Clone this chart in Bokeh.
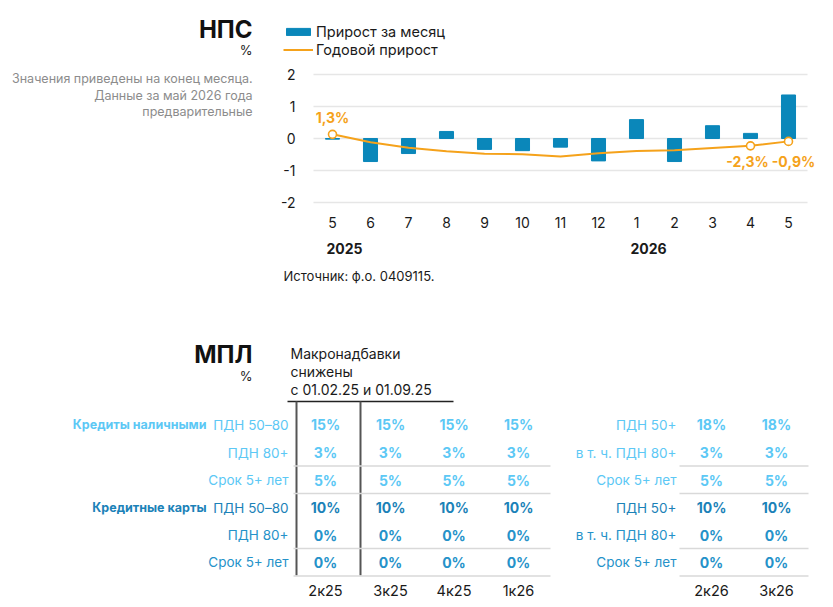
from bokeh.plotting import figure
from bokeh.models import (Range1d, FixedTicker, LinearAxis, Legend, LegendItem, ColumnDataSource)
from bokeh.embed import file_html
from bokeh.resources import INLINE
from bokeh.core.properties import value

# ---------------- data ----------------
months = ["5", "6", "7", "8", "9", "10", "11", "12", "1", "2", "3", "4", "5"]
monthly = [-0.02, -0.72, -0.47, 0.22, -0.34, -0.38, -0.27, -0.70, 0.59, -0.72, 0.40, 0.16, 1.36]
annual = [1.3, -1.2, -2.9, -4.0, -4.8, -4.9, -5.6, -4.6, -3.9, -3.7, -3.0, -2.3, -0.9]
annual_marked = [0, 11, 12]
years = ["2025", "2026"]
year_pos = [0, 8]
y_ticks = [-2, -1, 0, 1, 2]

table_cols_left = ["2к25", "3к25", "4к25", "1к26"]
table_cols_right = ["2к26", "3к26"]
group_labels = ["Кредиты наличными", "Кредитные карты"]
row_labels_left = ["ПДН 50–80", "ПДН 80+", "Срок 5+ лет", "ПДН 50–80", "ПДН 80+", "Срок 5+ лет"]
row_labels_right = ["ПДН 50+", "в т. ч. ПДН 80+", "Срок 5+ лет", "ПДН 50+", "в т. ч. ПДН 80+", "Срок 5+ лет"]
values_left = [[15, 15, 15, 15], [3, 3, 3, 3], [5, 5, 5, 5], [10, 10, 10, 10], [0, 0, 0, 0], [0, 0, 0, 0]]
values_right = [[18, 18], [3, 3], [5, 5], [10, 10], [0, 0], [0, 0]]
header_lines = ["Макронадбавки", "снижены", "с 01.02.25 и 01.09.25"]
notes = ["Значения приведены на конец месяца.", "Данные за май 2026 года", "предварительные"]
source_text = "Источник: ф.о. 0409115."

# ---------------- style ----------------
FONT = "Inter"
BLUE = "#0a87ba"
ORANGE = "#f5a21b"
DARK = "#1a1a1a"
GRAY = "#8c8c8c"
LIGHT = "#5cc8f5"
DBLUE1 = "#1b82b8"
DBLUE2 = "#2592c9"
row_colors = [LIGHT, LIGHT, LIGHT, DBLUE1, DBLUE2, DBLUE2]

W, H = 833, 607
FL, FR = 313, 807          # chart plot area, px
Y0, PXU = 138, 32          # px of zero line, px per unit
XMIN, XMAX = -0.5, len(months) - 0.5
xu = (FR - FL) / (XMAX - XMIN)

p = figure(width=W, height=H, x_range=Range1d(0, W), y_range=Range1d(H, 0),
           x_axis_type=None, y_axis_type=None,
           output_backend="svg", toolbar_location=None, min_border=0)
p.outline_line_color = None
p.extra_x_ranges = {"chart": Range1d(XMIN - FL / xu, XMAX + (W - FR) / xu)}
p.extra_y_ranges = {"chart": Range1d(-(H - Y0) / PXU, Y0 / PXU),
                    "annual": Range1d(-(H - Y0) / PXU * 10, Y0 / PXU * 10)}
CH = dict(x_range_name="chart", y_range_name="chart")

idx = list(range(len(months)))

# grid lines
p.segment(x0=[XMIN] * len(y_ticks), x1=[XMAX] * len(y_ticks), y0=y_ticks, y1=y_ticks,
          line_color="#e6e6e6", line_width=1.5, **CH)

src = ColumnDataSource(dict(x=idx, m=monthly, a=annual))
bars = p.vbar(x="x", top="m", width=0.37, color=BLUE, source=src, **CH)
line = p.line(x="x", y="a", color=ORANGE, line_width=2, source=src,
              x_range_name="chart", y_range_name="annual")
p.scatter(x=[idx[i] for i in annual_marked], y=[annual[i] for i in annual_marked], size=8,
          fill_color="white", line_color=ORANGE, line_width=1.6,
          x_range_name="chart", y_range_name="annual")

# axes placed at the chart area
yax = LinearAxis(y_range_name="chart", fixed_location=FL, ticker=FixedTicker(ticks=y_ticks),
                 major_label_overrides={t: str(t) for t in y_ticks})
xax = LinearAxis(x_range_name="chart", fixed_location=207, ticker=FixedTicker(ticks=idx),
                 major_label_overrides={i: m for i, m in enumerate(months)})
for ax in (xax, yax):
    ax.axis_line_color = None
    ax.major_tick_line_color = None
    ax.minor_tick_line_color = None
    ax.major_label_text_font = FONT
    ax.major_label_text_font_size = "14px"
    ax.major_label_text_color = DARK
yax.major_label_standoff = 12
xax.major_label_standoff = 3
p.add_layout(yax, "left")
p.add_layout(xax, "below")

# labels for annual line
lab = dict(x=[idx[i] for i in annual_marked], y=[annual[i] for i in annual_marked],
           t=[f"{annual[i]:.1f}".replace(".", ",") + "%" for i in annual_marked],
           dx=[0, -3, 5], dy=[-17, 16, 20])
p.text(x="x", y="y", text="t", x_offset="dx", y_offset="dy", source=ColumnDataSource(lab),
       text_align="center", text_baseline="alphabetic", text_font=value(FONT),
       text_font_size="14px", text_font_style="bold", text_color=ORANGE,
       x_range_name="chart", y_range_name="annual")

# legend
legend = Legend(items=[LegendItem(label="Прирост за месяц", renderers=[bars]),
                       LegendItem(label="Годовой прирост", renderers=[line])],
                location=(283, H - 58), glyph_width=30, glyph_height=9,
                label_height=17, spacing=1, padding=0, margin=0, label_standoff=3,
                label_text_font=FONT, label_text_font_size="14.5px", label_text_color=DARK,
                border_line_color=None, background_fill_alpha=0)
p.add_layout(legend)

tf = dict(text_font=value(FONT), text_baseline="middle")

# texts around chart
p.text(x=[252], y=[29], text=["НПС"], text_align="right", text_font_size="24px",
       text_font_style="bold", text_color="#111111", **tf)
p.text(x=[252], y=[49], text=["%"], text_align="right", text_font_size="13px", text_color=DARK, **tf)
p.text(x=[252] * 3, y=[78, 94.5, 111], text=notes, text_align="right", text_font_size="12.5px",
       text_color=GRAY, **tf)
p.text(x=year_pos, y=[248] * len(years), text=years, x_offset=-6, text_align="left",
       text_font_size="14px", text_font_style="bold", text_color=DARK, x_range_name="chart", **tf)
p.text(x=[283], y=[275], text=[source_text], text_align="left", text_font_size="13px",
       text_color=DARK, **tf)

# ---------------- table ----------------
row_y = [424, 452, 479.5, 507, 534.5, 561.5]
col_x_left = [325, 390, 453.5, 518]
col_x_right = [711, 776]
foot_y = 590

p.segment(x0=[287], y0=[401], x1=[453], y1=[401], line_color="#222222", line_width=1.5)
p.segment(x0=[296, 360], y0=[401, 401], x1=[296, 360], y1=[575, 575], line_color="#555555", line_width=2)
sep_y = [465.5, 493, 548, 575.5]
p.segment(x0=[293] * 4 + [679] * 4, y0=sep_y + sep_y, x1=[550] * 4 + [808] * 4, y1=sep_y + sep_y,
          line_color="#d9d9d9", line_width=1.5)

p.text(x=[252], y=[354], text=["МПЛ"], text_align="right", text_font_size="24px",
       text_font_style="bold", text_color="#111111", **tf)
p.text(x=[252], y=[375], text=["%"], text_align="right", text_font_size="13px", text_color=DARK, **tf)
p.text(x=[290] * 3, y=[353, 371, 389], text=header_lines, text_align="left", text_font_size="14px",
       text_color=DARK, **tf)

p.text(x=[288] * 6, y=row_y, text=row_labels_left, text_color=row_colors, text_align="right",
       text_font_size="13.5px", **tf)
p.text(x=[676] * 6, y=row_y, text=row_labels_right, text_color=row_colors, text_align="right",
       text_font_size="13.5px", **tf)
p.text(x=[206, 206], y=[row_y[0], row_y[3]], text=group_labels, text_color=[LIGHT, DBLUE1],
       text_align="right", text_font_size="12.5px", text_font_style="bold", **tf)

vx, vy, vt, vc = [], [], [], []
for r, vals in enumerate(values_left):
    for c, v in enumerate(vals):
        vx.append(col_x_left[c]); vy.append(row_y[r]); vt.append(f"{v}%"); vc.append(row_colors[r])
for r, vals in enumerate(values_right):
    for c, v in enumerate(vals):
        vx.append(col_x_right[c]); vy.append(row_y[r]); vt.append(f"{v}%"); vc.append(row_colors[r])
p.text(x=vx, y=vy, text=vt, text_color=vc, text_align="center", text_font_size="14px",
       text_font_style="bold", **tf)

cols = table_cols_left + table_cols_right
p.text(x=col_x_left + col_x_right, y=[foot_y] * len(cols), text=cols, text_align="center",
       text_font_size="14.5px", text_color=DARK, **tf)

open("out.html", "w").write(file_html(p, INLINE))
